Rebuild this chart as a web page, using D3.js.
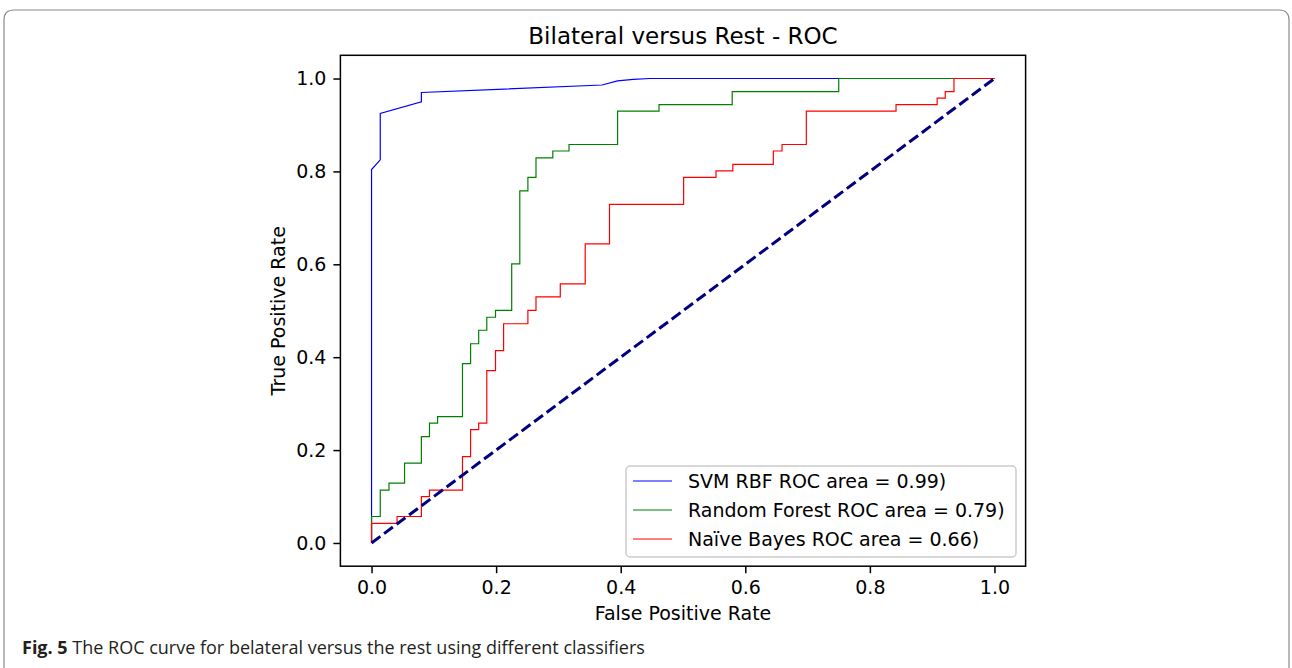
<!DOCTYPE html>
<html>
<head>
<meta charset="utf-8">
<script src="https://cdn.jsdelivr.net/npm/d3@7"></script>
<style>
  html, body { margin: 0; padding: 0; background: #fff; }
  svg { display: block; }
</style>
</head>
<body>
<svg id="chart" width="1292" height="668"></svg>
<script>
// ---- data ----
const title = "Bilateral versus Rest - ROC";
const xLabel = "False Positive Rate";
const yLabel = "True Positive Rate";
const tickValues = [0.0, 0.2, 0.4, 0.6, 0.8, 1.0];
const seriesNames = ["SVM RBF ROC area = 0.99)", "Random Forest ROC area = 0.79)", "Naïve Bayes ROC area = 0.66)"];
const seriesColors = ["#0000ff", "#008000", "#ff0000"];

const svmFpr = [0, 0, 0.014, 0.014, 0.080, 0.080, 0.370, 0.395, 0.420, 0.447, 1];
const svmTpr = [0, 0.804, 0.825, 0.925, 0.950, 0.970, 0.986, 0.995, 0.998, 1, 1];

const rfFpr = [0, 0, 0.014, 0.014, 0.028, 0.028, 0.053, 0.053, 0.080, 0.080, 0.093, 0.093, 0.106, 0.106, 0.146, 0.146, 0.159, 0.159, 0.172, 0.172, 0.185, 0.185, 0.199, 0.199, 0.225, 0.225, 0.238, 0.238, 0.251, 0.251, 0.264, 0.264, 0.291, 0.291, 0.317, 0.317, 0.395, 0.395, 0.4615, 0.4615, 0.579, 0.579, 0.750, 0.750, 1];
const rfTpr = [0, 0.057, 0.057, 0.114, 0.114, 0.129, 0.129, 0.172, 0.172, 0.229, 0.229, 0.258, 0.258, 0.272, 0.272, 0.386, 0.386, 0.429, 0.429, 0.458, 0.458, 0.486, 0.486, 0.501, 0.501, 0.601, 0.601, 0.758, 0.758, 0.787, 0.787, 0.829, 0.829, 0.844, 0.844, 0.858, 0.858, 0.930, 0.930, 0.944, 0.944, 0.972, 0.972, 1, 1];

const nbFpr = [0, 0, 0.041, 0.041, 0.080, 0.080, 0.093, 0.093, 0.146, 0.146, 0.159, 0.159, 0.172, 0.172, 0.185, 0.185, 0.199, 0.199, 0.212, 0.212, 0.251, 0.251, 0.264, 0.264, 0.303, 0.303, 0.343, 0.343, 0.382, 0.382, 0.501, 0.501, 0.553, 0.553, 0.580, 0.580, 0.645, 0.645, 0.659, 0.659, 0.698, 0.698, 0.842, 0.842, 0.908, 0.908, 0.921, 0.921, 0.935, 0.935, 1];
const nbTpr = [0, 0.042, 0.042, 0.057, 0.057, 0.100, 0.100, 0.114, 0.114, 0.186, 0.186, 0.244, 0.244, 0.258, 0.258, 0.371, 0.371, 0.414, 0.414, 0.472, 0.472, 0.501, 0.501, 0.530, 0.530, 0.558, 0.558, 0.644, 0.644, 0.729, 0.729, 0.787, 0.787, 0.801, 0.801, 0.815, 0.815, 0.844, 0.844, 0.858, 0.858, 0.930, 0.930, 0.944, 0.944, 0.958, 0.958, 0.972, 0.972, 1, 1];

const chanceX = [0, 1];
const chanceY = [0, 1];

const captionBold = "Fig. 5";
const captionText = " The ROC curve for belateral versus the rest using different classifiers";

(function () {
// ---- layout ----
const svg = d3.select("#chart");
const font = "'DejaVu Sans', sans-serif";
const pL = 340.4, pR = 1025.6, pT = 55.3, pB = 566.2;

const x = d3.scaleLinear().domain([-0.05, 1.05]).range([pL, pR]);
const y = d3.scaleLinear().domain([-0.05, 1.05]).range([pB, pT]);

// outer frame
svg.append("path")
  .attr("d", `M4,668 L4,20 Q4,10 14,10 L1279,10 Q1289,10 1289,20 L1289,668`)
  .attr("fill", "none").attr("stroke", "#8a8a8a").attr("stroke-width", 1.2);

// title
svg.append("text").attr("x", (pL + pR) / 2).attr("y", 44)
  .attr("text-anchor", "middle").attr("font-family", font).attr("font-size", 23)
  .attr("fill", "#000").text(title);

const clip = svg.append("clipPath").attr("id", "clip");
clip.append("rect").attr("x", pL).attr("y", pT).attr("width", pR - pL).attr("height", pB - pT);

const line = d3.line().x(d => x(d[0])).y(d => y(d[1]));
const series = [
  [svmFpr, svmTpr],
  [rfFpr, rfTpr],
  [nbFpr, nbTpr]
];
const g = svg.append("g").attr("clip-path", "url(#clip)");
series.forEach((s, i) => {
  const pts = s[0].map((v, j) => [v, s[1][j]]);
  g.append("path").attr("d", line(pts)).attr("fill", "none")
    .attr("stroke", seriesColors[i]).attr("stroke-width", 1.2)
    .attr("stroke-linejoin", "miter");
});
g.append("path").attr("d", line(chanceX.map((v, j) => [v, chanceY[j]])))
  .attr("fill", "none").attr("stroke", "#000080").attr("stroke-width", 3)
  .attr("stroke-dasharray", "11,4.6");

// axes
const xAxis = d3.axisBottom(x).tickValues(tickValues).tickFormat(d3.format(".1f")).tickSize(7).tickPadding(7);
const yAxis = d3.axisLeft(y).tickValues(tickValues).tickFormat(d3.format(".1f")).tickSize(7).tickPadding(7);
const gx = svg.append("g").attr("transform", `translate(0,${pB})`).call(xAxis);
const gy = svg.append("g").attr("transform", `translate(${pL},0)`).call(yAxis);
[gx, gy].forEach(a => {
  a.select(".domain").remove();
  a.selectAll("line").attr("stroke", "#000").attr("stroke-width", 1.5);
  a.selectAll("text").attr("font-family", font).attr("font-size", 19).attr("fill", "#000");
});

// frame of axes
svg.append("rect").attr("x", pL).attr("y", pT).attr("width", pR - pL).attr("height", pB - pT)
  .attr("fill", "none").attr("stroke", "#000").attr("stroke-width", 1.5);

// axis labels
svg.append("text").attr("x", (pL + pR) / 2).attr("y", 620)
  .attr("text-anchor", "middle").attr("font-family", font).attr("font-size", 19).text(xLabel);
svg.append("text").attr("transform", `translate(285,${(pT + pB) / 2}) rotate(-90)`)
  .attr("text-anchor", "middle").attr("font-family", font).attr("font-size", 19).text(yLabel);

// legend
const lg = svg.append("g");
lg.append("rect").attr("x", 626).attr("y", 466).attr("width", 390).attr("height", 91)
  .attr("rx", 4).attr("fill", "#fff").attr("fill-opacity", 0.8)
  .attr("stroke", "#cccccc").attr("stroke-width", 1.5);
seriesNames.forEach((n, i) => {
  const yy = 481 + i * 29;
  lg.append("line").attr("x1", 633).attr("x2", 672).attr("y1", yy).attr("y2", yy)
    .attr("stroke", seriesColors[i]).attr("stroke-width", 1.2);
  lg.append("text").attr("x", 688).attr("y", yy + 7).attr("font-family", font)
    .attr("font-size", 19).attr("fill", "#000").text(n);
});

// caption
const cap = svg.append("text").attr("x", 22).attr("y", 654)
  .attr("font-family", "'Liberation Sans Narrow', 'Open Sans', sans-serif").attr("font-size", 18).attr("fill", "#231f20");
cap.append("tspan").attr("font-weight", "bold").text(captionBold);
cap.append("tspan").text(captionText);
})();
</script>
</body>
</html>
